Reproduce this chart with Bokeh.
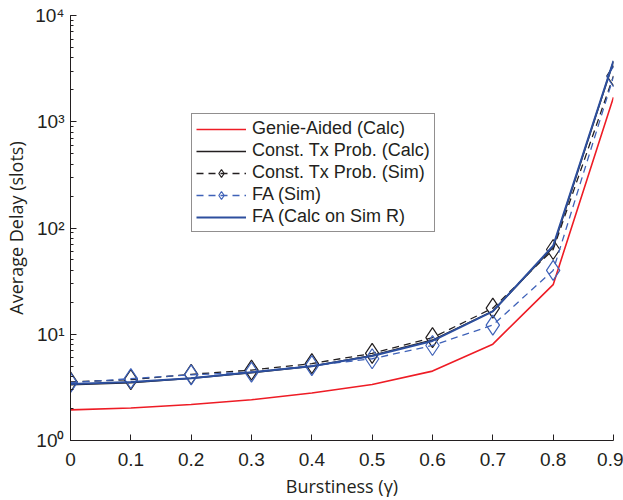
from bokeh.plotting import figure
from bokeh.models import FixedTicker, LogTicker, Range1d, Legend, LegendItem
from bokeh.embed import file_html
from bokeh.resources import INLINE

gamma = [0, 0.1, 0.2, 0.3, 0.4, 0.5, 0.6, 0.7, 0.8, 0.9]
genie_calc = [1.94, 2.02, 2.18, 2.42, 2.8, 3.36, 4.5, 8.07, 29.3, 1700]
const_calc = [3.35, 3.5, 3.85, 4.35, 5.0, 6.3, 8.8, 16.5, 66, 3700]
const_sim = [3.56, 3.74, 4.2, 4.6, 5.3, 6.6, 9.3, 17.6, 62.7, 2700]
fa_sim = [3.5, 3.82, 4.15, 4.4, 5.06, 5.88, 7.84, 12.2, 39.9, 2650]
fa_calc = [3.4, 3.55, 3.85, 4.38, 5.0, 6.25, 8.65, 16.4, 68, 3750]

x_ticks = [0, 0.1, 0.2, 0.3, 0.4, 0.5, 0.6, 0.7, 0.8, 0.9]
x_tick_labels = ["0", "0.1", "0.2", "0.3", "0.4", "0.5", "0.6", "0.7", "0.8", "0.9"]
y_ticks = [1, 10, 100, 1000, 10000]
y_tick_labels = ["10⁰", "10¹", "10²", "10³", "10⁴"]

RED = "#ee1c25"
BLACK = "#231f20"
BLUE = "#2d4f9e"
BLUE_D = "#3f62b8"

p = figure(width=623, height=500, y_axis_type="log", output_backend="svg",
           toolbar_location=None, x_range=Range1d(0, 0.9), y_range=Range1d(1, 10000),
           min_border_left=70, min_border_right=10, min_border_top=15, min_border_bottom=56)
p.outline_line_color = None
p.grid.visible = False
p.background_fill_color = "white"
p.border_fill_color = "white"

r1 = p.line(gamma, genie_calc, line_color=RED, line_width=1.6)
r2 = p.line(gamma, const_calc, line_color=BLACK, line_width=1.6)
r3 = p.line(gamma, const_sim, line_color=BLACK, line_width=1.3, line_dash="7 5")
r3m = p.scatter(gamma, const_sim, marker="diamond", size=20, fill_color=None,
                line_color=BLACK, line_width=1.2)
r4 = p.line(gamma, fa_sim, line_color=BLUE_D, line_width=1.3, line_dash="7 5")
r4m = p.scatter(gamma, fa_sim, marker="diamond", size=20, fill_color=None,
                line_color=BLUE_D, line_width=1.2)
r5 = p.line(gamma, fa_calc, line_color=BLUE, line_width=2.0)

legend = Legend(items=[
    LegendItem(label="Genie-Aided (Calc)", renderers=[r1]),
    LegendItem(label="Const. Tx Prob. (Calc)", renderers=[r2]),
    LegendItem(label="Const. Tx Prob. (Sim)", renderers=[r3, r3m]),
    LegendItem(label="FA (Sim)", renderers=[r4, r4m]),
    LegendItem(label="FA (Calc on Sim R)", renderers=[r5]),
], location=(121, 208))
legend.label_text_font = "Liberation Sans"
legend.label_text_font_size = "18px"
legend.label_text_color = "#231f20"
legend.glyph_width = 50
legend.glyph_height = 20
legend.label_height = 20
legend.spacing = 1
legend.padding = 4
legend.margin = 0
legend.label_standoff = 6
legend.border_line_color = "#231f20"
legend.border_line_width = 1.2
legend.background_fill_alpha = 1
p.add_layout(legend, "center")

# x axis
xa = p.xaxis[0]
xa.ticker = FixedTicker(ticks=x_ticks)
xa.major_label_overrides = {t: l for t, l in zip(x_ticks, x_tick_labels)}
xa.minor_tick_line_color = None
xa.major_tick_in = 6
xa.major_tick_out = 0
xa.axis_label = "Burstiness (γ)"
xa.axis_label_text_font = "Open Sans"
xa.axis_label_text_font_style = "normal"
xa.axis_label_text_font_size = "18px"
xa.axis_label_standoff = 5
xa.major_label_text_font = "Liberation Sans"
xa.major_label_text_font_size = "19px"
xa.major_label_standoff = 12

# y axis
ya = p.yaxis[0]
ya.ticker = LogTicker(num_minor_ticks=10, desired_num_ticks=5)
ya.major_label_overrides = {t: l for t, l in zip(y_ticks, y_tick_labels)}
ya.major_tick_in = 6
ya.major_tick_out = 0
ya.minor_tick_in = 3
ya.minor_tick_out = 0
ya.axis_label = "Average Delay (slots)"
ya.axis_label_text_font = "Open Sans"
ya.axis_label_text_font_style = "normal"
ya.axis_label_text_font_size = "18px"
ya.axis_label_standoff = 4
ya.major_label_text_font = "Liberation Sans"
ya.major_label_text_font_size = "19px"
ya.major_label_standoff = 6

for ax in (xa, ya):
    ax.axis_line_color = "#231f20"
    ax.major_tick_line_color = "#231f20"
    ax.major_label_text_color = "#231f20"
    ax.axis_label_text_color = "#231f20"
ya.minor_tick_line_color = "#231f20"

open("out.html", "w").write(file_html(p, INLINE))
